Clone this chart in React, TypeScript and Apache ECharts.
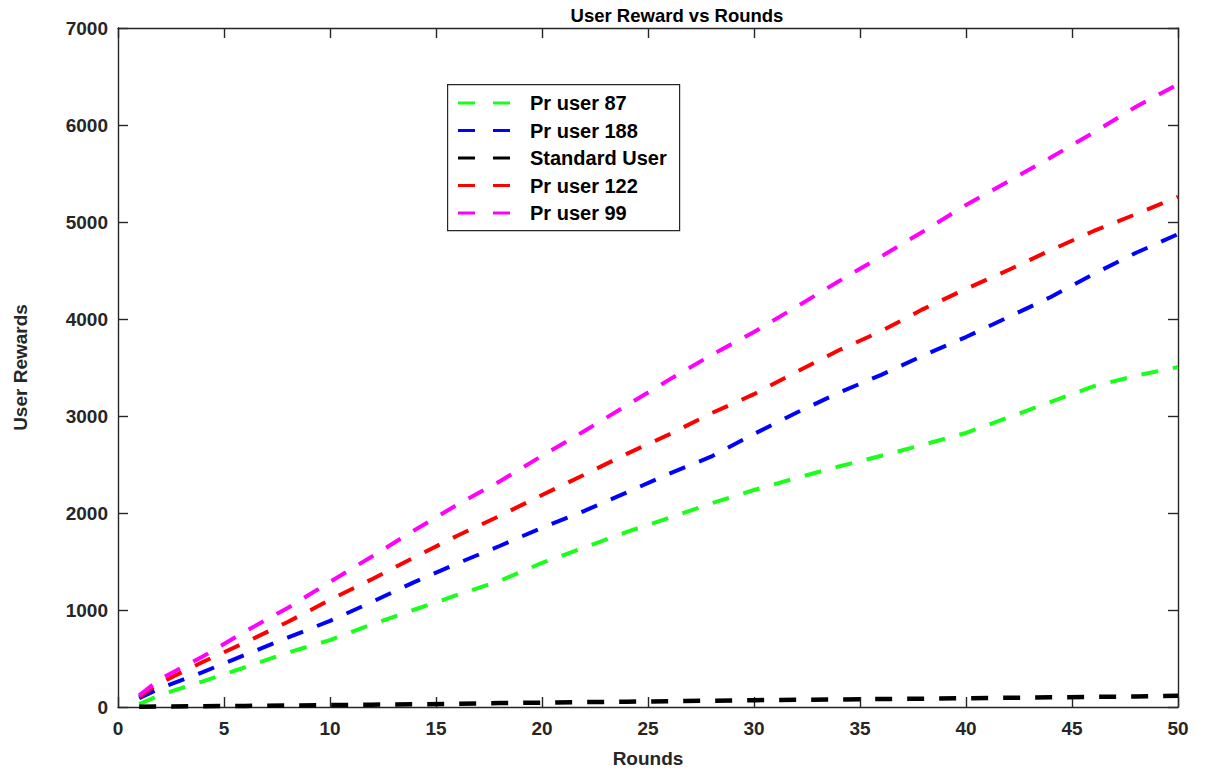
import React, { useEffect, useRef } from "react";
import * as echarts from "echarts";

// Rounds at which the rewards are sampled
const rounds = [1, 2, 4, 6, 8, 10, 12, 14, 16, 18, 20, 22, 24, 26, 28, 30, 32, 34, 36, 38, 40, 42, 44, 46, 48, 50];

// Cumulative rewards per user
const prUser87 = [30, 125, 265, 410, 560, 690, 855, 1005, 1155, 1300, 1485, 1645, 1805, 1950, 2100, 2237, 2360, 2480, 2590, 2705, 2825, 2985, 3145, 3305, 3415, 3505];
const prUser188 = [90, 195, 360, 538, 715, 888, 1085, 1290, 1480, 1660, 1848, 2022, 2212, 2405, 2583, 2815, 3033, 3240, 3424, 3626, 3814, 4020, 4227, 4462, 4680, 4875];
const standardUser = [2, 5, 8, 11, 15, 20, 24, 28, 33, 40, 45, 50, 55, 60, 65, 70, 74, 78, 82, 86, 90, 95, 100, 104, 108, 115];
const prUser122 = [105, 250, 464, 665, 876, 1105, 1320, 1545, 1765, 1970, 2185, 2395, 2610, 2810, 3030, 3225, 3455, 3678, 3875, 4105, 4310, 4505, 4710, 4905, 5080, 5260];
const prUser99 = [120, 290, 520, 780, 1020, 1290, 1555, 1825, 2085, 2325, 2590, 2845, 3110, 3375, 3630, 3866, 4125, 4390, 4645, 4905, 5175, 5420, 5665, 5920, 6186, 6420];

const seriesNames = ["Pr user 87", "Pr user 188", "Standard User", "Pr user 122", "Pr user 99"];
const seriesValues = [prUser87, prUser188, standardUser, prUser122, prUser99];
const seriesColors = ["#1aff1a", "#0000ff", "#000000", "#ff0000", "#ff00ff"];

const FONT = "'Liberation Sans', Arial, Helvetica, sans-serif";
const AXIS_COLOR = "#262626";

// Two short dashes, used as the legend key of every dashed line
const DASH_ICON = "path://M0,0h17v3h-17z M35,0h17v3h-17z";

const axisLine = () => ({ show: true, onZero: false, lineStyle: { color: AXIS_COLOR, width: 1.4 } });
const axisTick = () => ({ show: true, inside: true, length: 10, lineStyle: { color: AXIS_COLOR, width: 1.4 } });
const tickLabel = (margin: number) => ({
  color: AXIS_COLOR,
  fontFamily: FONT,
  fontWeight: "bold" as const,
  fontSize: 19,
  margin,
  formatter: (v: number) => String(v),
});
const axisName = () => ({ color: AXIS_COLOR, fontFamily: FONT, fontWeight: "bold" as const, fontSize: 19 });

export default function App() {
  const ref = useRef<HTMLDivElement>(null);

  useEffect(() => {
    if (!ref.current) return;
    const chart = echarts.init(ref.current, undefined, { renderer: "svg" });

    chart.setOption({
      animation: false,
      backgroundColor: "#ffffff",
      title: {
        text: "User Reward vs Rounds",
        left: 672,
        top: 1,
        textAlign: "center",
        textStyle: { color: "#000", fontFamily: FONT, fontWeight: "bold", fontSize: 18.5 },
      },
      grid: { left: 118, top: 28, right: 32, bottom: 66, containLabel: false },
      legend: {
        orient: "vertical",
        left: 458,
        top: 93,
        padding: 0,
        icon: DASH_ICON,
        itemWidth: 52,
        itemHeight: 3,
        itemGap: 7.5,
        data: seriesNames,
        textStyle: {
          color: "#000",
          fontFamily: FONT,
          fontWeight: "bold",
          fontSize: 20,
          padding: [0, 0, 0, 15],
        },
        z: 10,
      },
      graphic: [
        {
          type: "rect",
          left: 447,
          top: 84,
          z: 9,
          shape: { width: 232, height: 146 },
          style: { fill: "#ffffff", stroke: AXIS_COLOR, lineWidth: 1.2 },
        },
      ],
      xAxis: [
        {
          type: "value",
          min: 0,
          max: 50,
          interval: 5,
          name: "Rounds",
          nameLocation: "middle",
          nameGap: 42,
          nameTextStyle: axisName(),
          axisLine: axisLine(),
          axisTick: axisTick(),
          axisLabel: tickLabel(12),
          splitLine: { show: false },
        },
        {
          type: "value",
          position: "top",
          min: 0,
          max: 50,
          interval: 5,
          axisLine: axisLine(),
          axisTick: axisTick(),
          axisLabel: { show: false },
          splitLine: { show: false },
        },
      ],
      yAxis: [
        {
          type: "value",
          position: "left",
          min: 0,
          max: 7000,
          interval: 1000,
          name: "User Rewards",
          nameLocation: "middle",
          nameGap: 88,
          nameRotate: 90,
          nameTextStyle: axisName(),
          axisLine: axisLine(),
          axisTick: axisTick(),
          axisLabel: tickLabel(10),
          splitLine: { show: false },
        },
        {
          type: "value",
          position: "right",
          min: 0,
          max: 7000,
          interval: 1000,
          axisLine: axisLine(),
          axisTick: axisTick(),
          axisLabel: { show: false },
          splitLine: { show: false },
        },
      ],
      series: seriesNames.map((name, i) => ({
        name,
        type: "line",
        xAxisIndex: 0,
        yAxisIndex: 0,
        symbol: "none",
        data: rounds.map((r, j) => [r, seriesValues[i][j]]),
        color: seriesColors[i],
        lineStyle: {
          color: seriesColors[i],
          width: i === 2 ? 4.5 : 4,
          type: [17, 15],
        },
        z: 2 + i,
      })),
    });

    return () => chart.dispose();
  }, []);

  return (
    <div
      ref={ref}
      style={{ position: "absolute", left: 0, top: 0, width: 1210, height: 773 }}
    />
  );
}
